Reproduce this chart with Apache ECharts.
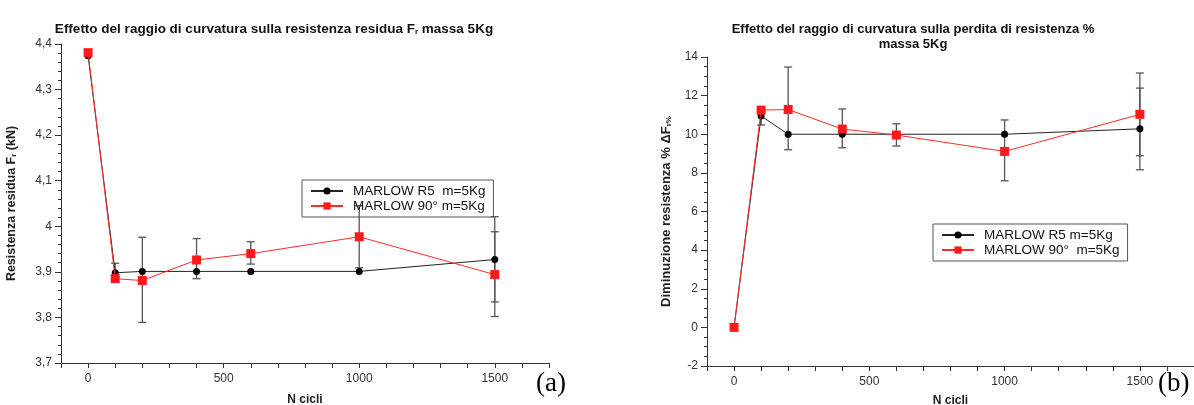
<!DOCTYPE html>
<html>
<head>
<meta charset="utf-8">
<script src="https://cdn.jsdelivr.net/npm/echarts@6/dist/echarts.min.js"></script>
<style>
  html, body { margin: 0; padding: 0; background: #fff; }
  #main { width: 1194px; height: 405px; }
</style>
</head>
<body>
<div id="main"></div>
<script>
// N cicli
var cicli = [0, 100, 200, 400, 600, 1000, 1500];

// (a) resistenza residua Fr (kN)
var resR5 = [4.374, 3.898, 3.901, 3.901, 3.901, 3.901, 3.927];
var res90 = [4.381, 3.885, 3.881, 3.926, 3.940, 3.977, 3.894];
// barre d'errore [x, min, max]
var errA = [
  [100, 3.885, 3.919],
  [200, 3.789, 3.976],
  [400, 3.885, 3.973],
  [600, 3.917, 3.966],
  [1000, 3.909, 4.045],
  [1500, 3.802, 4.021],
  [1500, 3.834, 3.988]
];

// (b) perdita di resistenza %
var perdR5 = [0, 10.95, 10.0, 10.0, 10.0, 10.0, 10.28];
var perd90 = [0, 11.25, 11.28, 10.27, 9.96, 9.11, 11.03];
var errB = [
  [100, 10.48, 11.39],
  [200, 9.2, 13.48],
  [400, 9.3, 11.31],
  [600, 9.39, 10.54],
  [1000, 7.59, 10.74],
  [1500, 8.16, 13.17],
  [1500, 8.89, 12.39]
];

function pairs(xs, ys) {
  return xs.map(function (x, i) { return [x, ys[i]]; });
}

var font = 'Liberation Sans, Arial, sans-serif';
var subStyle = { fontSize: 8, fontWeight: 'bold', padding: [5, 0, 0, 0] };

function errorBar(params, api) {
  var x = api.value(0);
  var lo = api.coord([x, api.value(1)]);
  var hi = api.coord([x, api.value(2)]);
  var c = 4;
  var st = { stroke: '#555', lineWidth: 1.3 };
  return {
    type: 'group',
    children: [
      { type: 'line', shape: { x1: lo[0], y1: lo[1], x2: hi[0], y2: hi[1] }, style: st },
      { type: 'line', shape: { x1: lo[0] - c, y1: lo[1], x2: lo[0] + c, y2: lo[1] }, style: st },
      { type: 'line', shape: { x1: hi[0] - c, y1: hi[1], x2: hi[0] + c, y2: hi[1] }, style: st }
    ]
  };
}

function xAxis(grid, gap) {
  return {
    type: 'value',
    gridIndex: grid,
    min: -100,
    max: 1700,
    interval: 100,
    name: 'N cicli',
    nameLocation: 'middle',
    nameGap: gap,
    nameTextStyle: { fontFamily: font, fontSize: 12, fontWeight: 'bold', color: '#222' },
    axisLine: { onZero: false, lineStyle: { color: '#333', width: 1 } },
    axisTick: { length: 5, lineStyle: { color: '#333' } },
    axisLabel: {
      fontFamily: font, fontSize: 12, color: '#333', margin: 10,
      formatter: function (v) { return v % 500 === 0 && v >= 0 ? String(v) : ''; }
    },
    splitLine: { show: false }
  };
}

var lineBlack = {
  type: 'line', symbol: 'circle', symbolSize: 7,
  lineStyle: { color: '#222', width: 1 },
  itemStyle: { color: '#000' }, z: 3
};
var lineRed = {
  type: 'line', symbol: 'rect', symbolSize: 9,
  lineStyle: { color: '#ff2a2a', width: 1 },
  itemStyle: { color: '#ff1a1a' }, z: 4
};

var legendBase = {
  orient: 'vertical', itemGap: 1, itemWidth: 32, itemHeight: 9,
  padding: [4, 8, 4, 8],
  borderColor: '#555', borderWidth: 1,
  textStyle: { fontFamily: font, fontSize: 13.5, color: '#111', padding: [0, 0, 0, 5] }
};

var chart = echarts.init(document.getElementById('main'));

var option = {
  animation: false,
  backgroundColor: '#fff',
  title: [
    {
      text: 'Effetto del raggio di curvatura sulla resistenza residua F{sub|r} massa 5Kg',
      left: 269, top: 17, textAlign: 'center',
      textStyle: { fontFamily: font, fontSize: 13.5, fontWeight: 'bold', color: '#111', rich: { sub: subStyle } }
    },
    {
      text: 'Effetto del raggio di curvatura sulla perdita di resistenza %\nmassa 5Kg',
      left: 908, top: 17, textAlign: 'center',
      textStyle: { fontFamily: font, fontSize: 13, fontWeight: 'bold', color: '#111', lineHeight: 15 }
    }
  ],
  legend: [
    Object.assign({}, legendBase, { left: 302, top: 180, data: ['MARLOW R5  m=5Kg', 'MARLOW 90° m=5Kg'] }),
    Object.assign({}, legendBase, { left: 933, top: 224, data: ['MARLOW R5 m=5Kg', 'MARLOW 90°  m=5Kg'] })
  ],
  grid: [
    { left: 61, top: 44, width: 488, height: 319, outerBoundsMode: 'none', containLabel: false },
    { left: 707, top: 57, width: 487, height: 309, outerBoundsMode: 'none', containLabel: false }
  ],
  xAxis: [xAxis(0, 31), xAxis(1, 29)],
  yAxis: [
    {
      type: 'value', gridIndex: 0,
      min: 3.7, max: 4.4, interval: 0.1,
      name: 'Resistenza residua F{sub|r} (kN)',
      nameLocation: 'middle', nameGap: 43,
      nameTextStyle: { fontFamily: font, fontSize: 12.5, fontWeight: 'bold', color: '#222', rich: { sub: subStyle } },
      axisLine: { show: true, onZero: false, lineStyle: { color: '#333' } },
      axisTick: { show: true, length: 6, lineStyle: { color: '#333' } },
      minorTick: { show: true, splitNumber: 5, length: 3, lineStyle: { color: '#333' } },
      axisLabel: {
        fontFamily: font, fontSize: 12, color: '#333', margin: 9,
        formatter: function (v) { return String(Math.round(v * 10) / 10).replace('.', ','); }
      },
      splitLine: { show: false }
    },
    {
      type: 'value', gridIndex: 1,
      min: -2, max: 14, interval: 2,
      name: 'Diminuzione resistenza % ΔF{sub|r%}',
      nameLocation: 'middle', nameGap: 34,
      nameTextStyle: { fontFamily: font, fontSize: 13, fontWeight: 'bold', color: '#222', rich: { sub: subStyle } },
      axisLine: { show: true, onZero: false, lineStyle: { color: '#333' } },
      axisTick: { show: true, length: 6, lineStyle: { color: '#333' } },
      minorTick: { show: true, splitNumber: 4, length: 3, lineStyle: { color: '#333' } },
      axisLabel: { fontFamily: font, fontSize: 12, color: '#333', margin: 9 },
      splitLine: { show: false }
    }
  ],
  graphic: [
    { type: 'text', left: 536, top: 370, style: { text: '(a)', font: '27px "Liberation Serif", serif', fill: '#000' } },
    { type: 'text', left: 1158, top: 370, style: { text: '(b)', font: '27px "Liberation Serif", serif', fill: '#000' } }
  ],
  series: [
    { type: 'custom', xAxisIndex: 0, yAxisIndex: 0, renderItem: errorBar, data: errA, z: 2, silent: true },
    Object.assign({}, lineBlack, { name: 'MARLOW R5  m=5Kg', xAxisIndex: 0, yAxisIndex: 0, data: pairs(cicli, resR5) }),
    Object.assign({}, lineRed, { name: 'MARLOW 90° m=5Kg', xAxisIndex: 0, yAxisIndex: 0, data: pairs(cicli, res90) }),
    { type: 'custom', xAxisIndex: 1, yAxisIndex: 1, renderItem: errorBar, data: errB, z: 2, silent: true },
    Object.assign({}, lineBlack, { name: 'MARLOW R5 m=5Kg', xAxisIndex: 1, yAxisIndex: 1, data: pairs(cicli, perdR5) }),
    Object.assign({}, lineRed, { name: 'MARLOW 90°  m=5Kg', xAxisIndex: 1, yAxisIndex: 1, data: pairs(cicli, perd90) })
  ]
};

chart.setOption(option);
</script>
</body>
</html>
